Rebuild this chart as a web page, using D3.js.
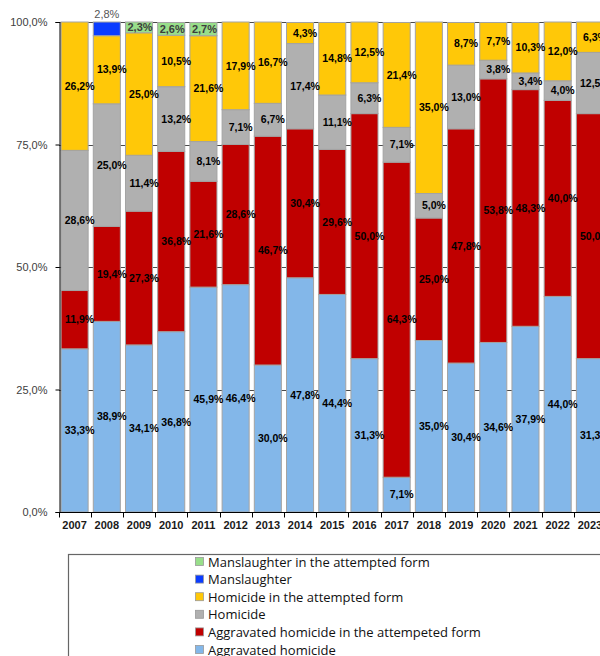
<!DOCTYPE html>
<html>
<head>
<meta charset="utf-8">
<script src="https://cdn.jsdelivr.net/npm/d3@7"></script>
<style>
  body { margin: 0; background: #fff; }
  svg { display: block; font-family: "Liberation Sans", Arial, sans-serif; }
</style>
</head>
<body>
<div id="chart"></div>
<script>
//Datos (porcentajes por año)
const years = ['2007','2008','2009','2010','2011','2012','2013','2014','2015','2016','2017','2018','2019','2020','2021','2022','2023'];
const aggravated         = [33.3, 38.9, 34.1, 36.8, 45.9, 46.4, 30.0, 47.8, 44.4, 31.3,  7.1, 35.0, 30.4, 34.6, 37.9, 44.0, 31.3];
const aggravatedAttempt  = [11.9, 19.4, 27.3, 36.8, 21.6, 28.6, 46.7, 30.4, 29.6, 50.0, 64.3, 25.0, 47.8, 53.8, 48.3, 40.0, 50.0];
const homicide           = [28.6, 25.0, 11.4, 13.2,  8.1,  7.1,  6.7, 17.4, 11.1,  6.3,  7.1,  5.0, 13.0,  3.8,  3.4,  4.0, 12.5];
const homicideAttempt    = [26.2, 13.9, 25.0, 10.5, 21.6, 17.9, 16.7,  4.3, 14.8, 12.5, 21.4, 35.0,  8.7,  7.7, 10.3, 12.0,  6.3];
const manslaughter       = [   0,  2.8,    0,    0,    0,    0,    0,    0,    0,    0,    0,    0,    0,    0,    0,    0,    0];
const manslaughterAttempt= [   0,    0,  2.3,  2.6,  2.7,    0,    0,    0,    0,    0,    0,    0,    0,    0,    0,    0,    0];
const yTicks = [0, 25, 50, 75, 100];

//Series (de abajo hacia arriba)
const series = [
    {key: 'ah',  name: 'Aggravated homicide', values: aggravated, color: '#83B7E9'},
    {key: 'aha', name: 'Aggravated homicide in the attempeted form', values: aggravatedAttempt, color: '#C00000'},
    {key: 'h',   name: 'Homicide', values: homicide, color: '#B0B0B0'},
    {key: 'ha',  name: 'Homicide in the attempted form', values: homicideAttempt, color: '#FFC808'},
    {key: 'm',   name: 'Manslaughter', values: manslaughter, color: '#0A3CFF'},
    {key: 'ma',  name: 'Manslaughter in the attempted form', values: manslaughterAttempt, color: '#98DE8A'}
];

let table = years.map(function(y, i) {
    let row = {year: y};
    series.forEach(function(s) { row[s.key] = s.values[i]; });
    return row;
});

const W = 600, H = 656;

let svg = d3.select('#chart')
    .append('svg')
        .attr('width', W)
        .attr('height', H);

let x = d3.scaleBand()
    .domain(years)
    .range([58.5, 606])
    .paddingInner(0.16)
    .paddingOuter(0.08);

let y = d3.scaleLinear()
    .domain([0, 100])
    .range([512, 22]);

let stack = d3.stack().keys(series.map(function(s) { return s.key; }));
let stacked = stack(table);

//Rejilla
svg.append('g')
    .selectAll('line')
    .data(yTicks.filter(function(d) { return d > 0; }))
    .enter().append('line')
        .attr('x1', 59).attr('x2', W)
        .attr('y1', function(d) { return Math.round(y(d)) + 0.5; })
        .attr('y2', function(d) { return Math.round(y(d)) + 0.5; })
        .attr('stroke', '#4a4a4a')
        .attr('stroke-width', 1);

//Barras
let layers = svg.append('g')
    .selectAll('g')
    .data(stacked)
    .enter().append('g')
        .attr('fill', function(d, i) { return series[i].color; });

layers.selectAll('rect')
    .data(function(d) { return d; })
    .enter().append('rect')
        .filter(function(d) { return d[1] - d[0] > 0; })
        .attr('x', function(d) { return x(d.data.year); })
        .attr('y', function(d) { return y(Math.min(d[1], 100)); })
        .attr('width', x.bandwidth())
        .attr('height', function(d) { return y(d[0]) - y(Math.min(d[1], 100)); })
        .attr('stroke', '#a3a3a3')
        .attr('stroke-width', 1);

//Etiquetas de datos
let labels = svg.append('g');
stacked.forEach(function(layer, i) {
    let s = series[i];
    layer.forEach(function(d) {
        let v = d[1] - d[0];
        if (v <= 0.05) return;
        let top = Math.min(d[1], 100);
        let cx = x(d.data.year) + x.bandwidth() / 2 + 5;
        let cy = (y(d[0]) + y(top)) / 2;
        let txt = labels.append('text')
            .attr('x', cx)
            .attr('y', cy)
            .attr('dy', '0.35em')
            .attr('text-anchor', 'middle')
            .style('font-size', '10.5px')
            .style('font-weight', 'bold')
            .attr('fill', '#000')
            .text(d3.format('.1f')(s.values[years.indexOf(d.data.year)]).replace('.', ',') + '%');
        if (s.key === 'm') {
            txt.attr('x', cx - 5).attr('y', y(100) - 8)
                .style('font-weight', 'normal')
                .style('font-size', '11px')
                .attr('fill', '#555');
        }
        if (s.key === 'ma') {
            txt.attr('x', cx - 4).attr('fill', '#3d3d3d').style('font-size', '11px');
        }
    });
});

//Eje Y
let yAxis = svg.append('g')
    .attr('transform', 'translate(59.5,0)')
    .call(d3.axisLeft(y)
        .tickValues(yTicks)
        .tickSize(4)
        .tickFormat(function(d) { return d3.format('.1f')(d).replace('.', ',') + '%'; }));
yAxis.select('.domain').attr('stroke', '#000');
yAxis.selectAll('.tick line').attr('stroke', '#000');
yAxis.selectAll('.tick text')
    .attr('x', -12)
    .style('font-size', '11px')
    .style('font-family', '"Liberation Sans", Arial, sans-serif')
    .attr('fill', '#404040');

//Eje X
let xAxis = svg.append('g')
    .attr('transform', 'translate(0,512.5)');
xAxis.append('line')
    .attr('x1', 59).attr('x2', W)
    .attr('stroke', '#000');
xAxis.selectAll('line.tk')
    .data(d3.range(years.length + 1))
    .enter().append('line')
        .attr('class', 'tk')
        .attr('x1', function(i) { return Math.round(58.5 + i * x.step()) + 0.5; })
        .attr('x2', function(i) { return Math.round(58.5 + i * x.step()) + 0.5; })
        .attr('y1', 0).attr('y2', 5)
        .attr('stroke', '#000');
xAxis.selectAll('text')
    .data(years)
    .enter().append('text')
        .attr('x', function(d) { return x(d) + x.bandwidth() / 2; })
        .attr('y', 13)
        .attr('dy', '0.35em')
        .attr('text-anchor', 'middle')
        .style('font-size', '11px')
        .style('font-weight', 'bold')
        .attr('fill', '#1a1a1a')
        .text(function(d) { return d; });

//Leyenda
let legend = svg.append('g');
legend.append('rect')
    .attr('x', 68.5).attr('y', 554.5)
    .attr('width', 560).attr('height', 140)
    .attr('fill', '#fff')
    .attr('stroke', '#666')
    .attr('stroke-width', 1.2);

let items = legend.selectAll('g.item')
    .data(series.slice().reverse())
    .enter().append('g')
        .attr('class', 'item')
        .attr('transform', function(d, i) { return 'translate(195,' + (562 + i * 17.6) + ')'; });
items.append('rect')
    .attr('x', 0.5).attr('y', -4.5)
    .attr('width', 8).attr('height', 8)
    .attr('fill', function(d) { return d.color; })
    .attr('stroke', '#999')
    .attr('stroke-width', 0.8);
items.append('text')
    .attr('x', 13)
    .attr('dy', '0.35em')
    .style('font-family', '"Open Sans", "Noto Sans", sans-serif')
    .style('font-size', '13px')
    .attr('fill', '#111')
    .text(function(d) { return d.name; });
</script>
</body>
</html>
